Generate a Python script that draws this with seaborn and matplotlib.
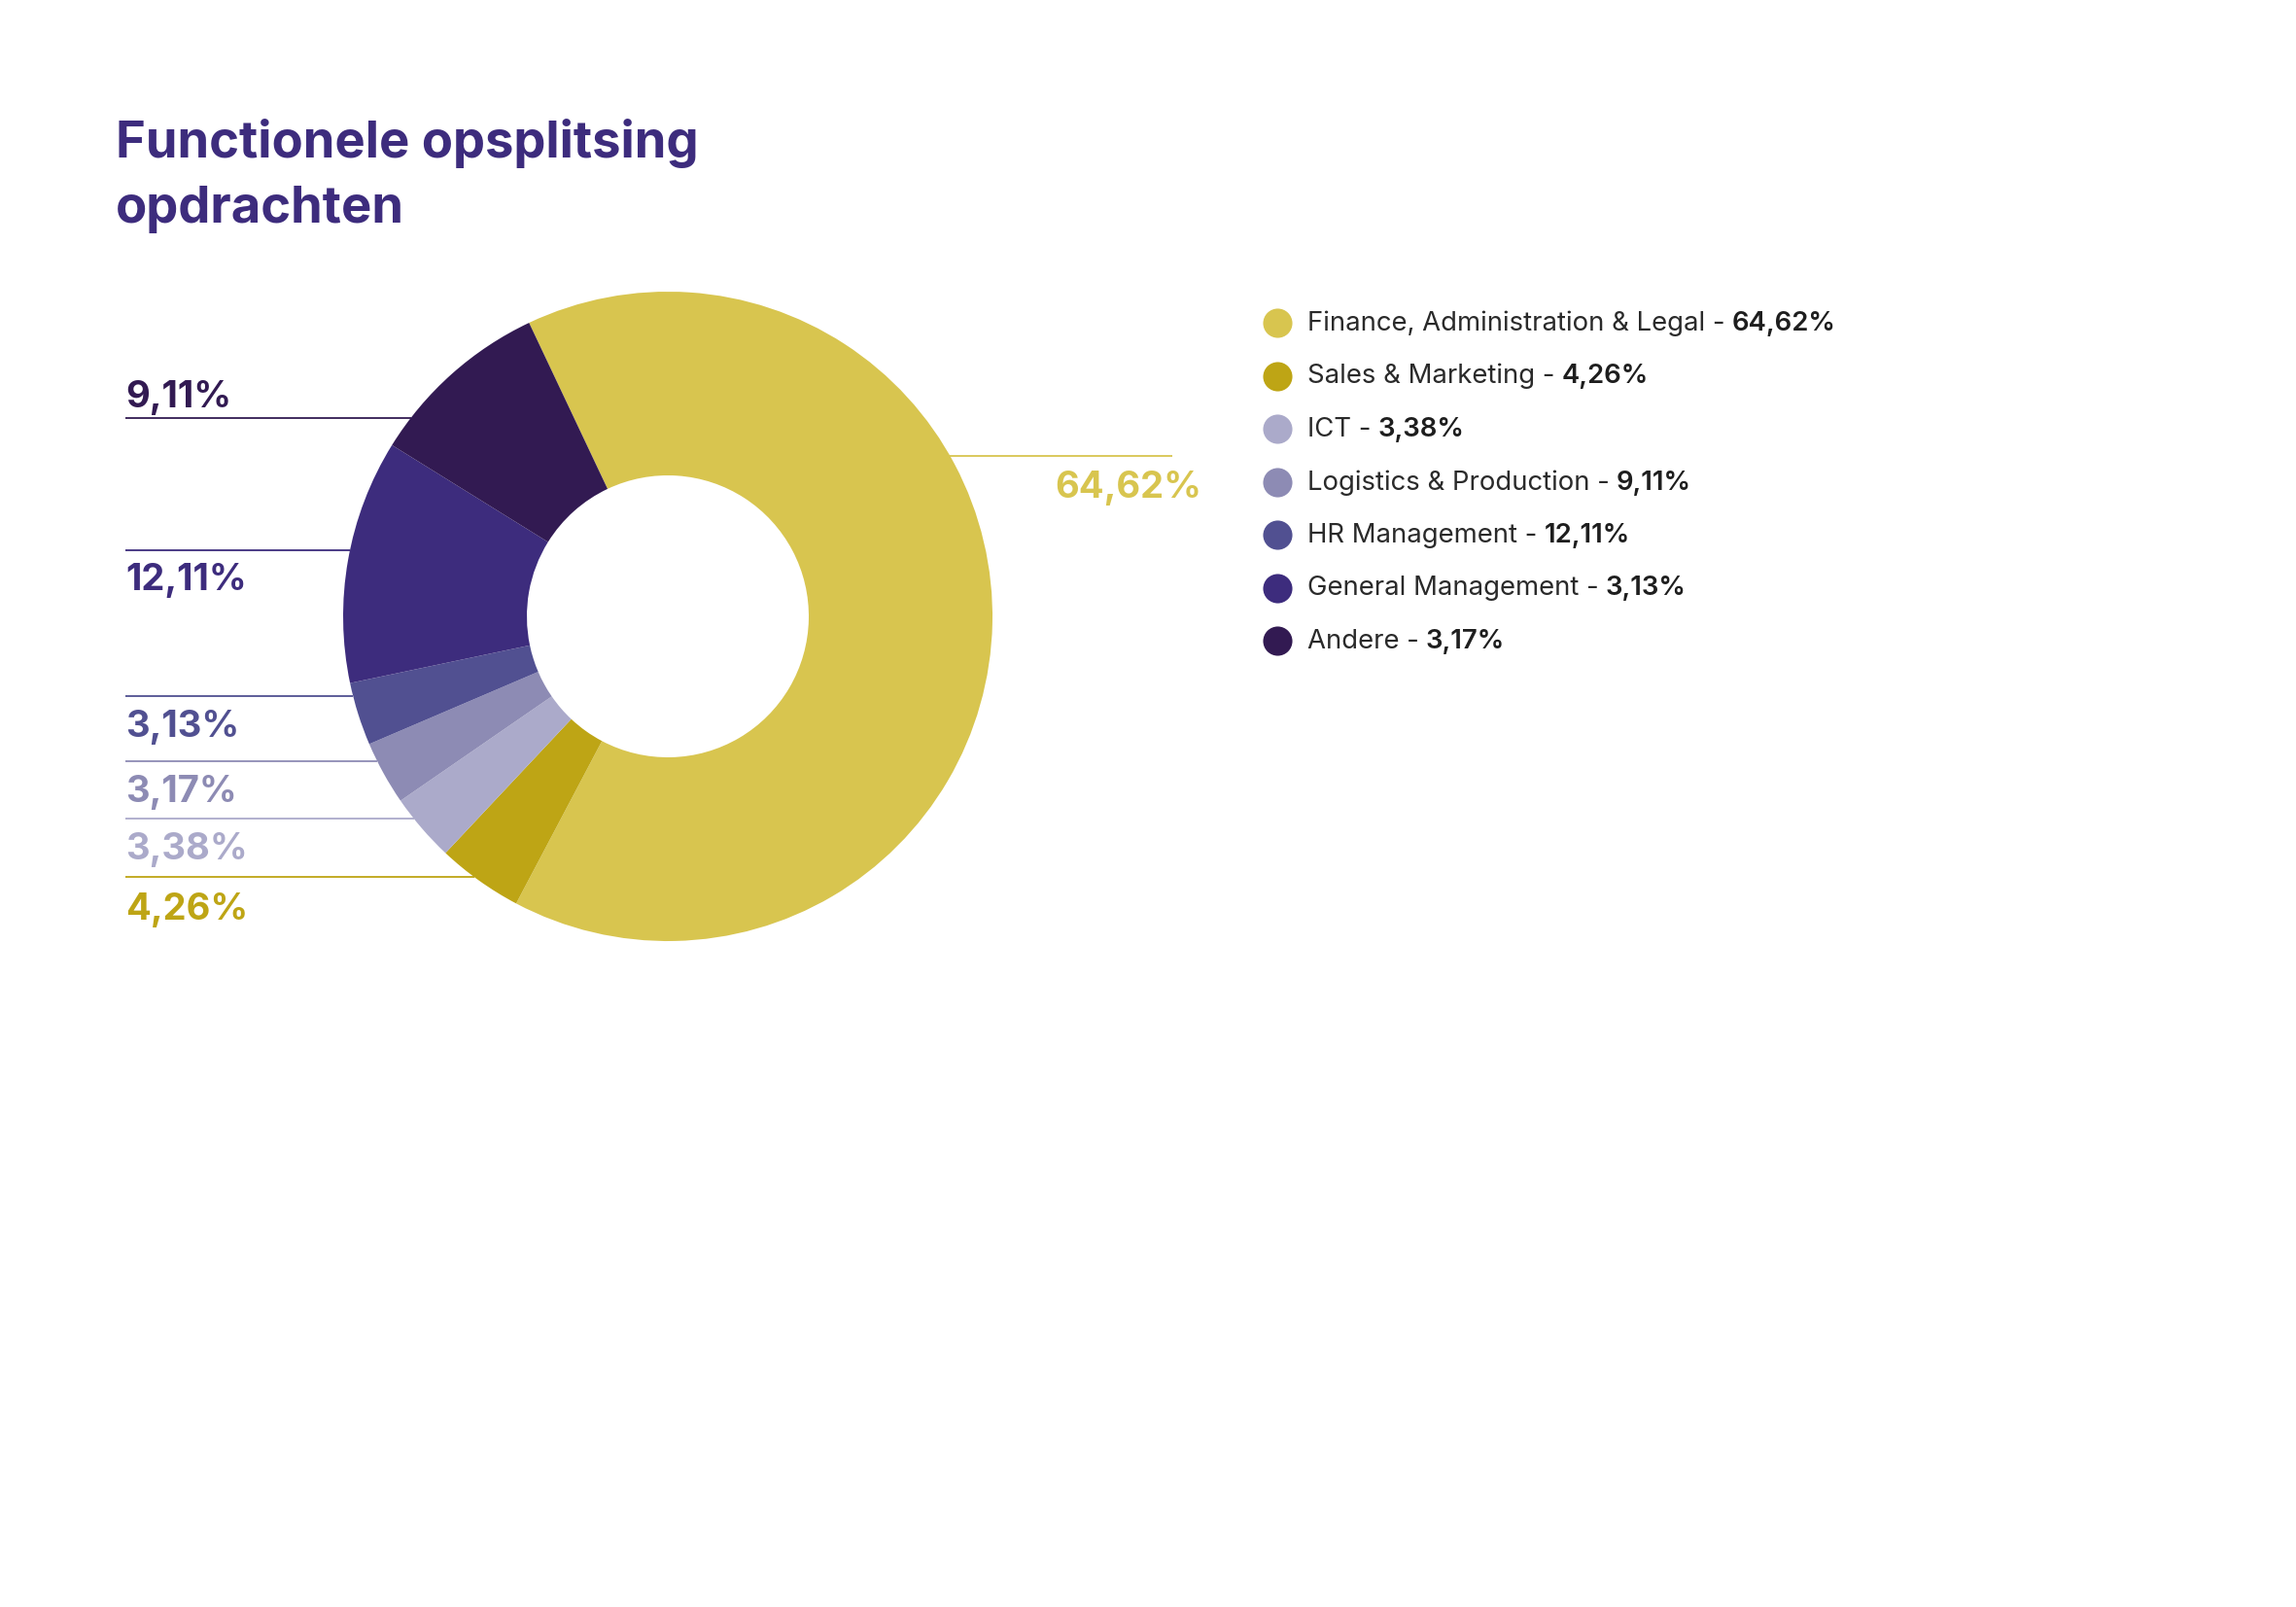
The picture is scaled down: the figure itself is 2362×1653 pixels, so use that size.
import numpy as np
import matplotlib
matplotlib.use("Agg")
import matplotlib.pyplot as plt
import seaborn as sns

# ==========================
# Data
# ==========================

categories = [
    "Finance, Administration & Legal",
    "Sales & Marketing",
    "ICT",
    "Logistics & Production",
    "HR Management",
    "General Management",
    "Andere",
]

# slice sizes as drawn in the donut (clockwise from the top)
slice_values = [64.62, 4.26, 3.38, 3.17, 3.13, 12.11, 9.11]

# percentages as printed in the legend
legend_pcts = ["64,62%", "4,26%", "3,38%", "9,11%", "12,11%", "3,13%", "3,17%"]

# labels printed next to the donut, with the slice whose colour they use
side_labels = ["9,11%", "12,11%", "3,13%", "3,17%", "3,38%", "4,26%"]
side_label_slice = [6, 5, 4, 3, 2, 1]
right_label = "64,62%"

colors = [
    "#d8c54f",
    "#bea515",
    "#abaaca",
    "#8d8bb4",
    "#515091",
    "#3d2c7d",
    "#321a52",
]

title_lines = ["Functionele opsplitsing", "opdrachten"]

# ==========================
# Layout (pixels, top-left origin)
# ==========================

W, H = 2362, 1653
CX, CY = 687, 634
R_OUT = 334
R_IN = 145

LINE_X0 = 129
side_line_y = [430, 566, 716, 783, 842, 902]
side_text_y = [419, 607, 758, 825, 884, 946]

RIGHT_LINE_Y = 469
RIGHT_LINE_X1 = 1206
RIGHT_TEXT_X = 1236
RIGHT_TEXT_Y = 512

LEG_DOT_X = 1314
LEG_TEXT_X = 1345
LEG_Y0 = 332
LEG_DY = 54.5

TITLE_X = 119
title_baselines = [162, 229]


def fy(y):
    return H - y


def edge_x(y):
    # left/right x where a horizontal line at y meets the outer circle
    d = np.sqrt(R_OUT ** 2 - (y - CY) ** 2)
    return CX - d, CX + d


# ==========================
# Style
# ==========================

sns.set_theme(style="white")
plt.rcParams["font.family"] = ["Inter", "DejaVu Sans"]

palette = sns.color_palette(colors)

fig = plt.figure(figsize=(W / 100, H / 100), dpi=100)
ax = fig.add_axes([0, 0, 1, 1])

# ==========================
# Donut
# ==========================

ax.pie(
    slice_values,
    colors=palette,
    startangle=115.3,
    counterclock=False,
    radius=R_OUT,
    center=(CX, fy(CY)),
    wedgeprops=dict(width=R_OUT - R_IN, edgecolor="none", linewidth=0),
)

ax.set_xlim(0, W)
ax.set_ylim(0, H)
ax.set_aspect("equal")
ax.axis("off")

# ==========================
# Side labels
# ==========================

for text, idx, ly, ty in zip(side_labels, side_label_slice, side_line_y, side_text_y):
    c = palette[idx]
    x_end = edge_x(ly)[0]
    ax.plot([LINE_X0, x_end], [fy(ly), fy(ly)], color=c, lw=1.3,
            solid_capstyle="butt", zorder=0)
    ax.text(LINE_X0, fy(ty), text, color=c, fontsize=27.5, fontweight="bold",
            ha="left", va="baseline")

x_start = edge_x(RIGHT_LINE_Y)[1]
ax.plot([x_start, RIGHT_LINE_X1], [fy(RIGHT_LINE_Y), fy(RIGHT_LINE_Y)],
        color=palette[0], lw=1.3, solid_capstyle="butt", zorder=0)
ax.text(RIGHT_TEXT_X, fy(RIGHT_TEXT_Y), right_label, color=palette[0],
        fontsize=27.5, fontweight="bold", ha="right", va="baseline")

# ==========================
# Legend
# ==========================

for i, (cat, pct) in enumerate(zip(categories, legend_pcts)):
    y = LEG_Y0 + i * LEG_DY
    ax.scatter([LEG_DOT_X], [fy(y)], s=470, color=palette[i], linewidths=0)
    t = ax.text(LEG_TEXT_X, fy(y + 8), cat + " -", color="#2a2a2a",
                fontsize=19.8, ha="left", va="baseline")
    ax.annotate(pct, xy=(1, 0), xycoords=t, xytext=(7, 0),
                textcoords="offset pixels", color="#1e1e1e", fontsize=19.8,
                fontweight="semibold", ha="left", va="bottom")

# ==========================
# Title
# ==========================

for line, by in zip(title_lines, title_baselines):
    ax.text(TITLE_X, fy(by), line, color="#3d2c7d", fontsize=37.8,
            fontweight="bold", ha="left", va="baseline")

fig.savefig("out.png", dpi=100)
plt.close(fig)
